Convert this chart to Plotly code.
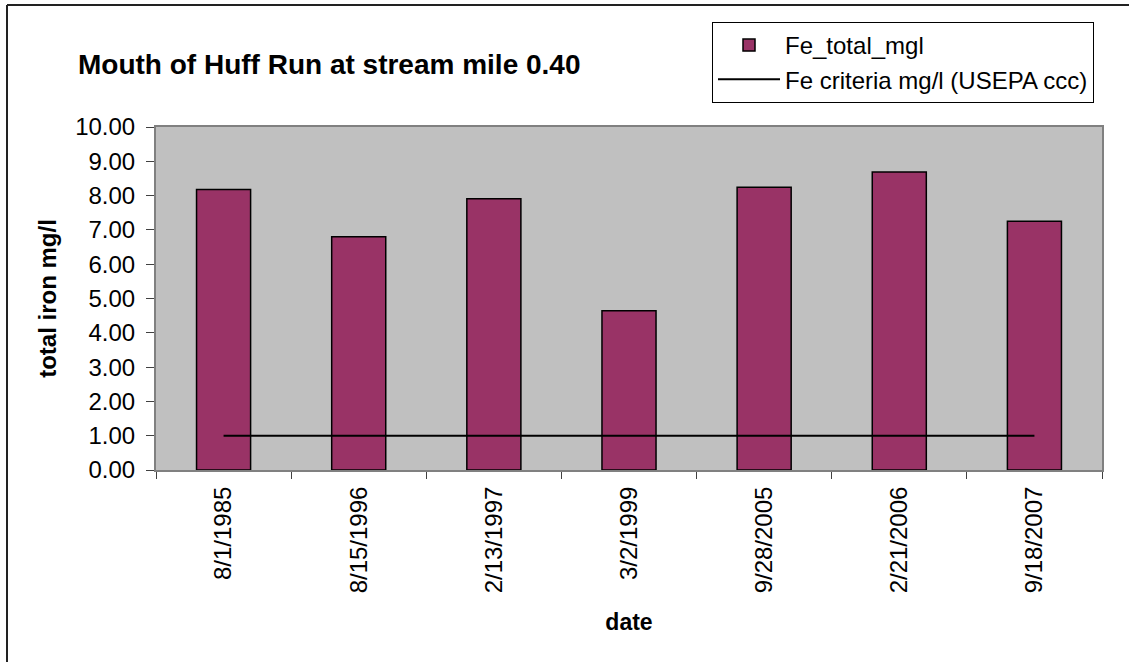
import plotly.graph_objects as go

# Sampling dates and measured total iron (mg/l)
dates = ["8/1/1985", "8/15/1996", "2/13/1997", "3/2/1999", "9/28/2005", "2/21/2006", "9/18/2007"]
fe_total = [8.18, 6.80, 7.91, 4.64, 8.24, 8.69, 7.25]
fe_criteria = [1.00, 1.00, 1.00, 1.00, 1.00, 1.00, 1.00]

y_ticks = [0, 1, 2, 3, 4, 5, 6, 7, 8, 9, 10]

FONT = "Liberation Sans, Arial, sans-serif"
W, H = 1129, 662
ML, MR, MT, MB = 156, 27, 127, 192
PW = W - ML - MR
PH = H - MT - MB


def px_to_paper_x(px):
    return (px - ML) / PW


def px_to_paper_y(py):
    return (H - MB - py) / PH


fig = go.Figure()

fig.add_trace(go.Bar(
    x=dates,
    y=fe_total,
    name="Fe_total_mgl",
    marker=dict(color="#993366", line=dict(color="black", width=1.5)),
))

fig.add_trace(go.Scatter(
    x=dates,
    y=fe_criteria,
    name="Fe criteria mg/l (USEPA ccc)",
    mode="lines",
    line=dict(color="black", width=2),
))

# Outer frame around the chart
frame = dict(type="line", xref="paper", yref="paper",
             line=dict(color="#222222", width=2), layer="above")
fig.add_shape(**frame, x0=px_to_paper_x(7), x1=px_to_paper_x(7),
              y0=px_to_paper_y(5), y1=px_to_paper_y(700))
fig.add_shape(**frame, x0=px_to_paper_x(7), x1=px_to_paper_x(1200),
              y0=px_to_paper_y(5), y1=px_to_paper_y(5))

fig.update_layout(
    width=W,
    height=H,
    margin=dict(l=ML, r=MR, t=MT, b=MB, pad=0),
    paper_bgcolor="white",
    plot_bgcolor="#C0C0C0",
    font=dict(family=FONT, size=22, color="black"),
    bargap=0.6,
    showlegend=True,
    title=dict(
        text="<b>Mouth of Huff Run at stream mile 0.40</b>",
        font=dict(family=FONT, size=28, color="black"),
        x=78 / W, xanchor="left", xref="container",
        y=1 - 64 / H, yanchor="middle", yref="container",
    ),
    legend=dict(
        x=px_to_paper_x(712), xanchor="left",
        y=px_to_paper_y(22), yanchor="top",
        bgcolor="white",
        bordercolor="black",
        borderwidth=1,
        font=dict(family=FONT, size=24, color="black"),
        itemwidth=62,
        tracegroupgap=0,
    ),
    xaxis=dict(
        type="category",
        tickangle=-90,
        ticks="outside",
        tickson="boundaries",
        ticklen=7,
        tickcolor="#404040",
        showline=True,
        linecolor="#808080",
        linewidth=2,
        mirror=True,
        showgrid=False,
        tickfont=dict(family=FONT, size=24),
        ticklabelstandoff=5,
        title=dict(text="<b>date</b>", font=dict(family=FONT, size=23), standoff=22),
        automargin=False,
    ),
    yaxis=dict(
        range=[0, 10],
        tickvals=y_ticks,
        tickformat=".2f",
        ticks="outside",
        ticklen=8,
        tickcolor="#404040",
        showline=True,
        linecolor="#808080",
        linewidth=2,
        mirror=True,
        showgrid=False,
        zeroline=False,
        tickfont=dict(family=FONT, size=24),
        ticklabelstandoff=6,
        title=dict(text="<b>total iron mg/l</b>", font=dict(family=FONT, size=24), standoff=12),
        automargin=False,
    ),
)

fig.write_html("out.html")
